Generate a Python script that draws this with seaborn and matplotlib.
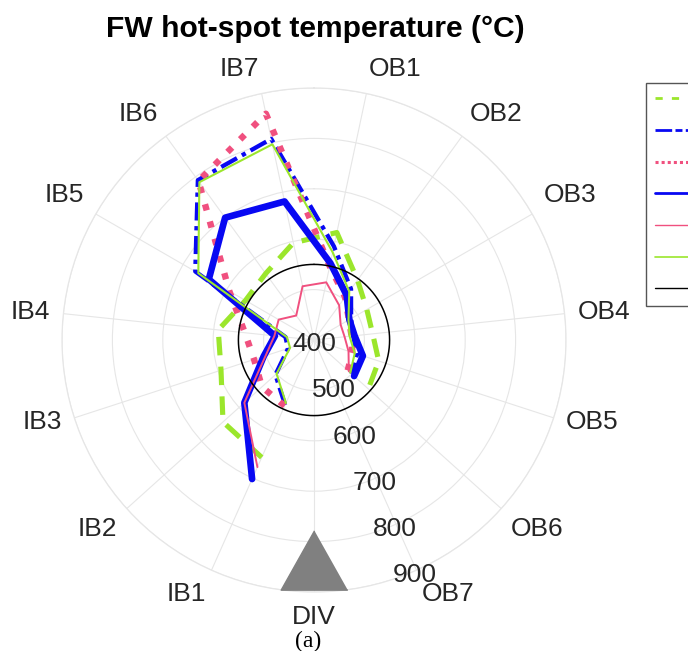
import numpy as np
import matplotlib
matplotlib.use("Agg")
import matplotlib.pyplot as plt
import matplotlib.transforms as mtransforms
from matplotlib.lines import Line2D
import seaborn as sns

sns.set_theme(style="white")
plt.rcParams["font.family"] = ["Liberation Sans", "DejaVu Sans"]

# Spokes of the polar frame, clockwise from the top, 24 degrees apart
spoke_labels = ["OB1", "OB2", "OB3", "OB4", "OB5", "OB6", "OB7", "DIV",
                "IB1", "IB2", "IB3", "IB4", "IB5", "IB6", "IB7"]
spoke_angles = [12, 36, 60, 84, 108, 132, 156, 180, 204, 228, 252, 276, 300, 324, 348]

# Blanket modules along each curve (inboard bottom -> top -> outboard)
positions = ["IB1", "IB2", "IB3", "IB4", "IB5", "IB6", "IB7",
             "OB1", "OB2", "OB3", "OB4", "OB5", "OB6"]

# Hot-spot temperatures (deg C) per module
temp_green_dashed = [655, 643, 594, 591, 557, 563, 597, 618, 547, 521, 517, 535, 545]
temp_blue_dashdot = [541, 503, 454, 457, 672, 792, 808, 590, 525, 485, 478, 490, 500]
temp_pink_dotted = [543, 539, 525, 538, 594, 790, 859, 550, 505, 480, 475, 480, 490]
temp_blue_solid = [702, 586, 505, 478, 641, 700, 681, 556, 510, 481, 481, 502, 507]
temp_pink_thin = [676, 586, 501, 479, 481, 460, 509, 517, 485, 461, 461, 472, 493]
temp_green_thin = [537, 500, 450, 454, 665, 787, 797, 578, 519, 479, 471, 485, 497]
temp_limit = 550

r_ticks = [400, 500, 600, 700, 800, 900]

GREEN = "#9be62c"
BLUE = "#0808f2"
PINK = "#f0507f"
GRID = "#e6e6e6"
TEXT = "#262626"

angle_of = dict(zip(spoke_labels, spoke_angles))
theta = np.deg2rad([angle_of[p] for p in positions])

fig = plt.figure(figsize=(6.88, 6.51), dpi=100)
ax = fig.add_axes([62 / 688, 59 / 651, 504 / 688, 504 / 651], projection="polar")
ax.set_theta_zero_location("N")
ax.set_theta_direction(-1)

series = [
    (temp_green_dashed, GREEN, 3.7, (0, (3.6, 2.2))),
    (temp_blue_dashdot, BLUE, 3.1, (0, (4.2, 1.3, 1.0, 1.3))),
    (temp_pink_dotted, PINK, 4.6, (0, (1.0, 1.8))),
    (temp_blue_solid, BLUE, 4.8, "-"),
    (temp_pink_thin, PINK, 1.4, "-"),
    (temp_green_thin, GREEN, 1.5, "-"),
]
for values, color, lw, ls in series:
    sns.lineplot(x=theta, y=values, ax=ax, sort=False, estimator=None,
                 color=color, linewidth=lw, linestyle=ls, legend=False)

# 550 deg C limit circle
circle_theta = np.linspace(0, 2 * np.pi, 361)
ax.plot(circle_theta, np.full_like(circle_theta, temp_limit), color="black", lw=1.1)

# Divertor marker
ax.plot([np.deg2rad(180)], [836], marker=[(0, 0.89), (-1, -0.89), (1, -0.89)],
        markersize=48, color="#808080", linestyle="none", clip_on=False, zorder=6)

ax.set_xlim(0, 2 * np.pi)
ax.set_ylim(r_ticks[0], r_ticks[-1])
ax.set_xticks(np.deg2rad(spoke_angles))
ax.set_xticklabels([])
ax.set_yticks(r_ticks[1:])
ax.set_yticklabels([])
ax.set_xlabel("")
ax.set_ylabel("")
ax.grid(True, color=GRID, linewidth=0.8)
ax.spines["polar"].set_color(GRID)
ax.spines["polar"].set_linewidth(0.9)
ax.tick_params(length=0)

# Spoke labels placed just outside the frame
for lab, ang in zip(spoke_labels, spoke_angles):
    s, c = np.sin(np.deg2rad(ang)), np.cos(np.deg2rad(ang))
    ha = "left" if s > 0.05 else ("right" if s < -0.05 else "center")
    va = "bottom" if c > 0.4 else ("top" if c < -0.4 else "center")
    ax.text(np.deg2rad(ang), 926, lab, ha=ha, va=va, fontsize=19,
            color=TEXT, clip_on=False)

# Radial tick labels along the OB7 spoke
shift = mtransforms.ScaledTranslation(0, -3 / 72, fig.dpi_scale_trans)
for rv in r_ticks:
    ax.text(np.deg2rad(156.5), rv, str(rv), ha="center", va="center", fontsize=19,
            color=TEXT, transform=ax.transData + shift, clip_on=False, zorder=7)

fig.text(315 / 688, 1 - 37 / 651, "FW hot-spot temperature (°C)", ha="center",
         va="baseline", fontsize=21.6, fontweight="bold", color="black")
fig.text(308 / 688, 1 - 647.5 / 651, "(a)", ha="center", va="baseline", fontsize=17,
         family="Liberation Serif", color="black")

handles = [
    Line2D([], [], color=GREEN, lw=2.0, linestyle=(0, (2.6, 3.3))),
    Line2D([], [], color=BLUE, lw=2.0, linestyle=(0, (6, 1.2, 2.5, 1.2))),
    Line2D([], [], color=PINK, lw=2.2, linestyle=(0, (1, 1))),
    Line2D([], [], color=BLUE, lw=2.0),
    Line2D([], [], color=PINK, lw=1.0),
    Line2D([], [], color=GREEN, lw=1.2),
    Line2D([], [], color="black", lw=1.0),
]
fig.legend(handles, [" "] * len(handles), loc="upper left",
           bbox_to_anchor=(646 / 688, 1 - 83 / 651), bbox_transform=fig.transFigure,
           fontsize=12, labelspacing=1.0, handlelength=3, borderpad=0.55,
           borderaxespad=0, frameon=True, fancybox=False, edgecolor="#555555",
           framealpha=1)

fig.savefig("out.png", dpi=100)
